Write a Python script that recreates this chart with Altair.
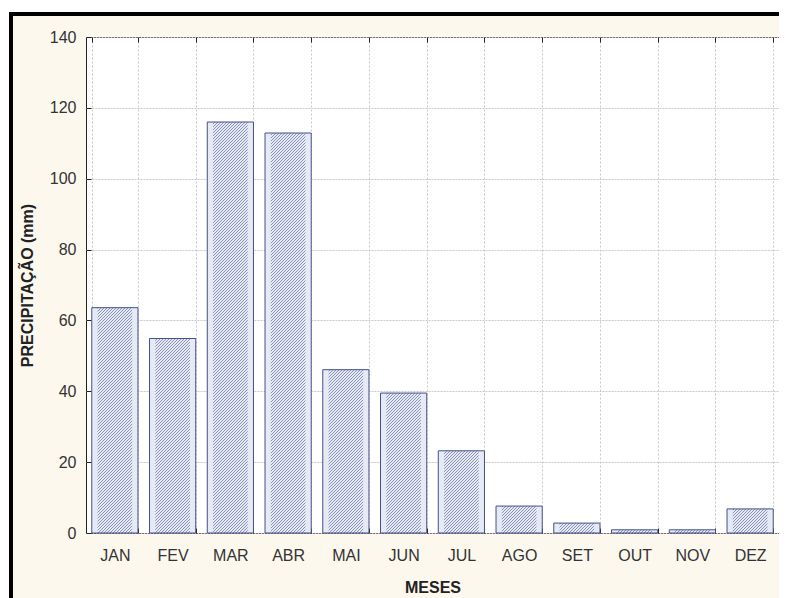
import altair as alt
import pandas as pd

# ---- data ----
meses = ["JAN", "FEV", "MAR", "ABR", "MAI", "JUN", "JUL", "AGO", "SET", "OUT", "NOV", "DEZ"]
precip = [63.6, 54.9, 116.0, 112.9, 46.1, 39.5, 23.2, 7.6, 2.8, 0.9, 0.9, 6.8]
y_ticks = [0, 20, 40, 60, 80, 100, 120, 140]

df = pd.DataFrame({"mes": meses, "precip": precip})

W, H = 693, 496
FONT = "Liberation Sans"
TXT = "#333333"
GRID = "#c8c8c8"
NAVY = "#44508A"
Y_MAX = 140
PAD_IN, PAD_OUT = 0.2, 0.1

xscale = alt.Scale(domain=meses, paddingInner=PAD_IN, paddingOuter=PAD_OUT)
yscale = alt.Scale(domain=[0, Y_MAX], nice=False, zero=True)

# ---- diagonal hatching inside each bar, derived from the values above ----
n = len(meses)
sx = W / n            # px per band step
sy = H / Y_MAX        # px per mm
PERIOD = 3.0          # horizontal spacing of hatch lines in px
rows = []
for k, v in enumerate(precip):
    x0 = (k + PAD_OUT + PAD_IN / 2) * sx
    x1 = (k + 1 - PAD_OUT - PAD_IN / 2) * sx
    h = v * sy
    c = (int((x0 - h) // PERIOD)) * PERIOD
    while c < x1:
        xa = max(x0, c)
        xb = min(x1, c + h)
        if xb > xa:
            rows.append({"hx": xa / sx, "hx2": xb / sx,
                         "hy": (xa - c) / sy, "hy2": (xb - c) / sy})
        c += PERIOD
hatch_df = pd.DataFrame(rows)

base = alt.Chart(df)

bars = base.mark_bar(fill="#E6EAF4", strokeWidth=0).encode(
    x=alt.X("mes:N", sort=meses, scale=xscale, title="MESES",
            axis=alt.Axis(orient="bottom", labelAngle=0, tickBand="extent",
                          ticks=False, tickSize=0, domain=False,
                          grid=True, gridColor=GRID, gridDash=[2, 2], gridWidth=1,
                          labelPadding=14, labelFont=FONT, labelFontSize=16,
                          labelColor=TXT, labelBaseline="top",
                          titleFont=FONT, titleFontSize=16, titleFontWeight="bold",
                          titleColor="#222222", titlePadding=16)),
    y=alt.Y("precip:Q", scale=yscale, title="PRECIPITAÇÃO (mm)",
            axis=alt.Axis(orient="left", values=y_ticks, ticks=False, tickSize=0,
                          domain=False, grid=True, gridColor=GRID, gridDash=[2, 1],
                          labelPadding=10, labelFont=FONT, labelFontSize=16,
                          labelColor=TXT, titleFont=FONT, titleFontSize=16,
                          titleFontWeight="bold", titleColor="#222222",
                          titlePadding=14)),
)

hatch = alt.Chart(hatch_df).mark_rule(color="#626C96", strokeWidth=0.7).encode(
    x=alt.X("hx:Q", scale=alt.Scale(domain=[0, n], nice=False, zero=False), axis=None),
    x2="hx2:Q",
    y=alt.Y("hy:Q", scale=yscale, axis=None),
    y2="hy2:Q",
)

outline = base.mark_bar(fillOpacity=0, stroke=NAVY, strokeWidth=1).encode(
    x=alt.X("mes:N", sort=meses, scale=xscale, axis=None),
    y=alt.Y("precip:Q", scale=yscale, axis=None),
)

# inward tick marks (mirrored axes moved onto the frame)
pts = base.mark_point(opacity=0)
ticks_bottom = pts.encode(
    x=alt.X("mes:N", sort=meses, scale=xscale,
            axis=alt.Axis(orient="top", offset=-H, labels=False, domain=False, grid=False,
                          tickBand="extent", tickSize=5, tickColor="#222222", title=None)),
    y=alt.Y("precip:Q", scale=yscale, axis=None),
)
ticks_top = pts.encode(
    x=alt.X("mes:N", sort=meses, scale=xscale,
            axis=alt.Axis(orient="bottom", offset=-H, labels=False, domain=False, grid=False,
                          tickBand="extent", tickSize=5, tickColor="#222222", title=None)),
    y=alt.Y("precip:Q", scale=yscale, axis=None),
)
ticks_left = pts.encode(
    x=alt.X("mes:N", sort=meses, scale=xscale, axis=None),
    y=alt.Y("precip:Q", scale=yscale,
            axis=alt.Axis(orient="right", offset=-W, values=y_ticks, labels=False,
                          domain=False, grid=False, tickSize=5, tickColor="#222222",
                          title=None)),
)

# outer picture frame (decoration)
one = alt.Chart(pd.DataFrame({"k": [0]}))
frame_top = one.mark_rule(color="#000000", strokeWidth=4).encode(
    x=alt.value(-76), x2=alt.value(W + 4), y=alt.value(-23))
frame_left = one.mark_rule(color="#000000", strokeWidth=4).encode(
    x=alt.value(-75), y=alt.value(-25), y2=alt.value(H + 70))
white_top = one.mark_rule(color="#ffffff", strokeWidth=4).encode(
    x=alt.value(-78), x2=alt.value(W + 4), y=alt.value(-27))
white_left = one.mark_rule(color="#ffffff", strokeWidth=2).encode(
    x=alt.value(-77), y=alt.value(-29), y2=alt.value(H + 70))

chart = alt.layer(
    bars, hatch, outline, ticks_bottom, ticks_top, ticks_left,
    white_top, white_left, frame_top, frame_left,
).resolve_scale(x="independent").resolve_axis(
    x="independent", y="independent"
).properties(
    width=W, height=H,
    autosize=alt.AutoSizeParams(type="none"),
    padding={"left": 78, "top": 29, "right": 0, "bottom": 65},
    background="#FCF8EE",
).configure_view(fill="#ffffff", stroke="#222222", strokeWidth=1)

chart.save("out.html", embed_options={"renderer": "svg", "actions": False})
